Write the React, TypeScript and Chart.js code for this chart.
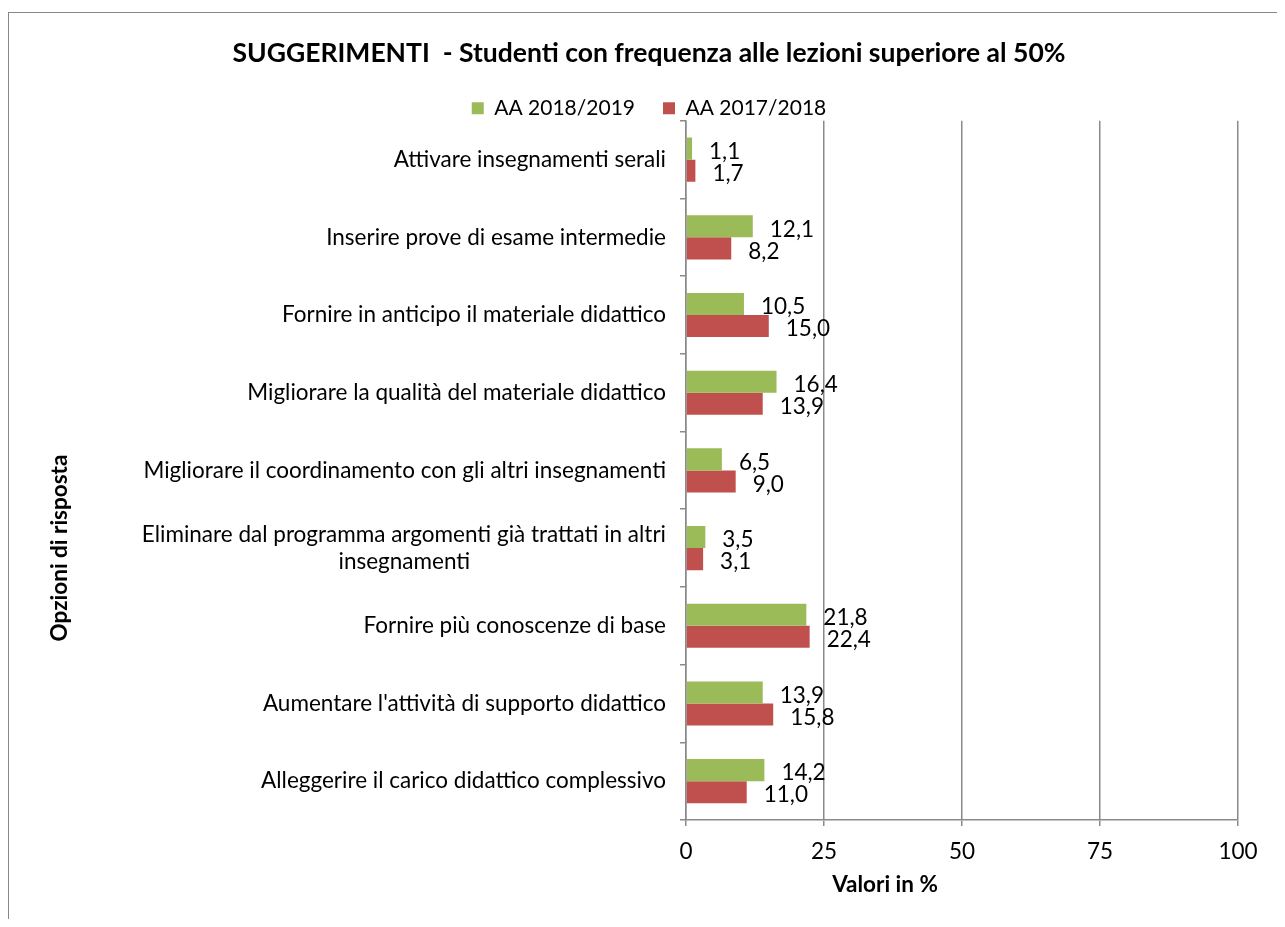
import React, { useEffect, useRef } from "react";
import { Chart, registerables } from "chart.js";

Chart.register(...registerables);

const categories: (string | string[])[] = [
  "Attivare insegnamenti serali",
  "Inserire prove di esame intermedie",
  "Fornire in anticipo il materiale didattico",
  "Migliorare la qualità del materiale didattico",
  "Migliorare il coordinamento con gli altri insegnamenti",
  ["Eliminare dal programma argomenti già trattati in altri", "insegnamenti"],
  "Fornire più conoscenze di base",
  "Aumentare l'attività di supporto didattico",
  "Alleggerire il carico didattico complessivo",
];
const values2019 = [1.1, 12.1, 10.5, 16.4, 6.5, 3.5, 21.8, 13.9, 14.2];
const values2018 = [1.7, 8.2, 15.0, 13.9, 9.0, 3.1, 22.4, 15.8, 11.0];
const seriesNames = ["AA 2018/2019", "AA 2017/2018"];
const seriesColors = ["#9BBB59", "#C0504D"];
const xTickValues = [0, 25, 50, 75, 100];
const chartTitle = "SUGGERIMENTI  - Studenti con frequenza alle lezioni superiore al 50%";
const xAxisTitle = "Valori in %";
const yAxisTitle = "Opzioni di risposta";

const FONT = "Lato, 'Noto Sans', sans-serif";
const FS = 22.5;
const LEG_FS = 21;
const GRID = "#8A8A8A";

function centerLines(lines: string[], font: string): string[] {
  const c = document.createElement("canvas").getContext("2d")!;
  c.font = font;
  const w = lines.map((l) => c.measureText(l).width);
  const max = Math.max(...w);
  const sp = c.measureText(" ").width;
  return lines.map((l, i) => l + " ".repeat(Math.round((max - w[i]) / 2 / sp)));
}

export default function App() {
  const ref = useRef<HTMLCanvasElement>(null);
  useEffect(() => {
    const labels = categories.map((c) =>
      Array.isArray(c) ? centerLines(c, `${FS}px ${FONT}`) : c
    );
    const fmt = (v: number) => v.toFixed(1).replace(".", ",");

    const dataLabels = {
      id: "dataLabels",
      afterDatasetsDraw(chart: any) {
        const ctx = chart.ctx;
        ctx.save();
        ctx.font = `${FS}px ${FONT}`;
        ctx.fillStyle = "#000";
        ctx.textAlign = "left";
        ctx.textBaseline = "middle";
        chart.data.datasets.forEach((ds: any, di: number) => {
          const meta = chart.getDatasetMeta(di);
          meta.data.forEach((bar: any, i: number) => {
            ctx.fillText(fmt(ds.data[i]), bar.x + 17, bar.y + 3);
          });
        });
        ctx.restore();
      },
    };

    const axisTitles = {
      id: "axisTitles",
      afterDraw(chart: any) {
        const ctx = chart.ctx;
        ctx.save();
        ctx.font = `bold ${FS}px ${FONT}`;
        ctx.fillStyle = "#000";
        ctx.textAlign = "center";
        ctx.textBaseline = "middle";
        ctx.fillText(xAxisTitle, 876, 872);
        ctx.translate(51, 535);
        ctx.rotate(-Math.PI / 2);
        ctx.fillText(yAxisTitle, 0, 0);
        ctx.restore();
      },
    };

    const chart = new Chart(ref.current!, {
      type: "bar",
      data: {
        labels,
        datasets: [
          {
            label: seriesNames[0],
            data: values2019,
            backgroundColor: seriesColors[0],
            categoryPercentage: 0.568,
            barPercentage: 1,
          },
          {
            label: seriesNames[1],
            data: values2018,
            backgroundColor: seriesColors[1],
            categoryPercentage: 0.568,
            barPercentage: 1,
          },
        ],
      },
      options: {
        indexAxis: "y",
        animation: false,
        responsive: false,
        layout: { padding: { left: 51, right: 39, top: 0, bottom: 0 } },
        plugins: {
          title: {
            display: true,
            text: chartTitle,
            color: "#000",
            font: { family: FONT, size: 26.5, weight: "bold" },
            padding: { top: 25, bottom: 0 },
          },
          legend: {
            display: true,
            position: "top",
            maxHeight: 51,
            labels: {
              color: "#000",
              font: { family: FONT, size: LEG_FS },
              boxWidth: 12,
              boxHeight: 12,
              padding: 28,
            },
          },
          tooltip: { enabled: false },
        },
        scales: {
          x: {
            type: "linear",
            min: 0,
            max: 100,
            afterBuildTicks(scale: any) {
              scale.ticks = xTickValues.map((v) => ({ value: v }));
            },
            afterFit(scale: any) {
              scale.height = 99;
            },
            grid: {
              color: GRID,
              lineWidth: 1.5,
              drawTicks: true,
              tickLength: 6,
            },
            border: { color: GRID, width: 1.5 },
            ticks: {
              color: "#000",
              font: { family: FONT, size: FS },
              padding: 12,
            },
          },
          y: {
            afterFit(scale: any) {
              scale.width = 626;
            },
            grid: {
              drawOnChartArea: false,
              offset: true,
              color: GRID,
              lineWidth: 1.5,
              tickLength: 6,
            },
            border: { color: GRID, width: 1.5 },
            ticks: {
              color: "#000",
              font: { family: FONT, size: FS },
              padding: 14,
            },
          },
        },
      },
      plugins: [dataLabels, axisTitles],
    } as any);
    return () => chart.destroy();
  }, []);

  return (
    <div style={{ paddingTop: 4 }}>
      <div style={{ borderTop: "1px solid #888", borderLeft: "1px solid #888", width: 1268, height: 906 }}>
        <canvas ref={ref} width={1268} height={906} style={{ display: "block" }} />
      </div>
    </div>
  );
}
